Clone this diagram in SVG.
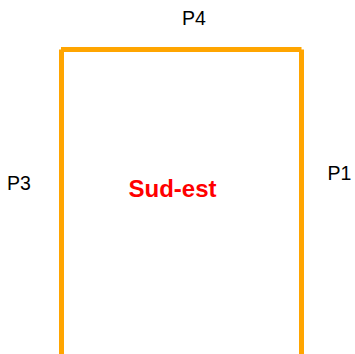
<svg xmlns="http://www.w3.org/2000/svg" width="355" height="354" viewBox="0 0 355 354">
<style>
.wall{stroke:#FFA500;stroke-width:5;fill:none;stroke-linecap:butt}
.lbl{font-family:"Liberation Sans",Arial,sans-serif;font-size:19.5px;fill:#000}
.name{font-family:"Liberation Sans",Arial,sans-serif;font-size:24px;font-weight:bold;fill:#FF0000}
</style>
<rect width="355" height="354" fill="#FFFFFF"/>
<g id="connectors">
<line class="wall" x1="61.5" y1="49.5" x2="61.5" y2="354"/>
<line class="wall" x1="61" y1="49.5" x2="301.5" y2="49.5"/>
<line class="wall" x1="301.5" y1="49.5" x2="301.5" y2="354"/>
</g>
<g id="p4"><text class="lbl" x="182" y="24.5">P4</text></g>
<g id="p3"><text class="lbl" x="7" y="189.5">P3</text></g>
<g id="p1"><text class="lbl" x="327.5" y="179.5">P1</text></g>
<g id="sud-est"><text class="name" x="128.5" y="197">Sud-est</text></g>
</svg>
